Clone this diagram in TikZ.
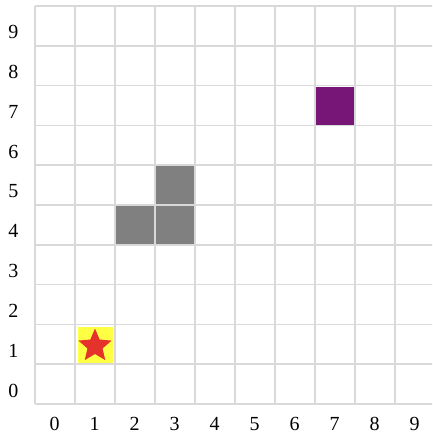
\documentclass[tikz,border=0pt]{standalone}
\usepackage{fontspec}
\setmainfont{Liberation Serif}
\usetikzlibrary{shapes.geometric}
\definecolor{gridgray}{HTML}{D9D9D9}
\definecolor{cellgray}{HTML}{808080}
\definecolor{cellpurple}{HTML}{771677}
\definecolor{cellyellow}{HTML}{FFFF44}
\definecolor{starred}{HTML}{E5322A}
\begin{document}
\begin{tikzpicture}[x=1pt,y=-1pt,
  gridline/.style={draw=gridgray,line width=1.6pt},
  cell/.style={draw=none,minimum width=38pt,minimum height=38pt,inner sep=0pt,outer sep=0pt,anchor=center},
  axislabel/.style={font=\fontsize{20}{20}\selectfont,inner sep=0pt}]
\useasboundingbox (0,0) rectangle (432,436);
\fill[white] (0,0) rectangle (432,436);
\begin{scope}
\clip (0,0) rectangle (432,436);
\foreach \i in {0,...,10} {
  \draw[gridline] (35+40*\i,6) -- (35+40*\i,404);
  \draw[gridline] (35,6+39.8*\i) -- (440,6+39.8*\i);
}
\end{scope}
% cells: column c center x = 55+40c, row r center y = 384.1-39.8r
\node[cell,fill=cellgray] (g24) at (135,225.1) {};
\node[cell,fill=cellgray] (g34) at (175,225.1) {};
\node[cell,fill=cellgray] (g35) at (175,185.3) {};
\node[cell,fill=cellpurple] (p77) at (335,105.7) {};
\node[cell,fill=cellyellow,minimum width=35pt,minimum height=36pt] (y11) at (95,344.8) {};
\node[star,star points=5,star point ratio=2.2,fill=starred,draw=none,minimum size=35pt,inner sep=0pt] (star) at (95,346) {};
\foreach \k in {0,...,9} {
  \node[axislabel] (xl\k) at (54.5+40*\k,424) {\k};
  \node[axislabel] (yl\k) at (13.5,390.5-39.8*\k) {\k};
}
\end{tikzpicture}
\end{document}
